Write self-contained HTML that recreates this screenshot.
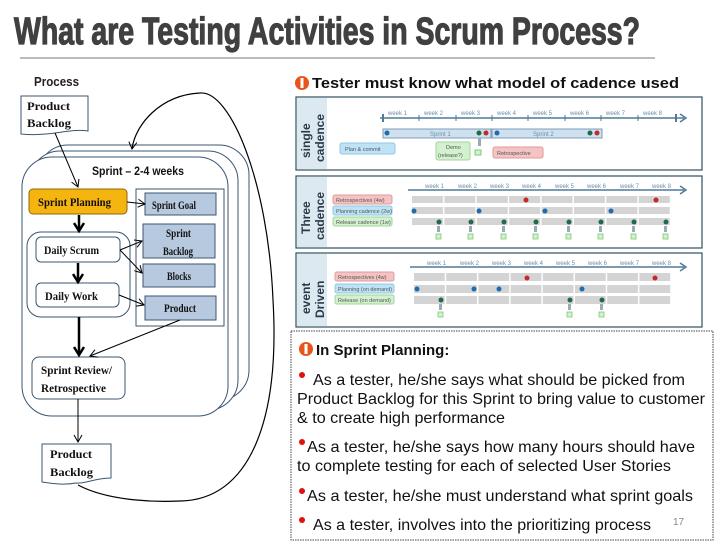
<!DOCTYPE html>
<html><head><meta charset="utf-8"><style>
html,body{margin:0;padding:0;background:#fff;}
svg{display:block;}
.n{font-family:"Liberation Serif",serif;font-weight:bold;font-size:12px;fill:#111;}
.s{font-family:"Liberation Sans",sans-serif;}
.wk{font-family:"Liberation Sans",sans-serif;font-size:6px;fill:#6a8ea8;}
.lb{font-family:"Liberation Sans",sans-serif;font-size:5.5px;fill:#555;}
</style></head><body>
<svg width="728" height="546" viewBox="0 0 728 546" xmlns="http://www.w3.org/2000/svg">
<defs>
<marker id="a" markerWidth="10" markerHeight="10" refX="8" refY="5" orient="auto" markerUnits="userSpaceOnUse"><path d="M1,1 L8,5 L1,9" fill="none" stroke="#000" stroke-width="1"/></marker>
<marker id="b" markerWidth="12" markerHeight="12" refX="9" refY="6" orient="auto" markerUnits="userSpaceOnUse"><path d="M1,1 L9,6 L1,11" fill="none" stroke="#000" stroke-width="2.5"/></marker>
<pattern id="cells" x="412" y="0" width="32.4" height="10" patternUnits="userSpaceOnUse"><rect width="31" height="10" fill="#d4d4d4"/></pattern>
<pattern id="cells2" x="414" y="0" width="32.2" height="10" patternUnits="userSpaceOnUse"><rect width="30.8" height="10" fill="#d4d4d4"/></pattern>
</defs>

<!-- title -->
<text x="14" y="44" class="s" font-weight="bold" font-size="38" fill="#404040" stroke="#404040" stroke-width="1.2" textLength="626" lengthAdjust="spacingAndGlyphs">What are Testing Activities in Scrum Process?</text>
<line x1="20" y1="58" x2="655" y2="58" stroke="#777" stroke-width="1"/>

<!-- left process -->
<text x="34" y="86" class="s" font-weight="bold" font-size="13" fill="#222" textLength="45" lengthAdjust="spacingAndGlyphs">Process</text>
<path d="M21,96 H88 V131 C70,128 50,137 21,134 Z" fill="#fff" stroke="#3b5670" stroke-width="1"/>
<text x="27" y="110" class="n" textLength="43" lengthAdjust="spacingAndGlyphs">Product</text><text x="27" y="127" class="n" textLength="44" lengthAdjust="spacingAndGlyphs">Backlog</text>

<!-- sprint stacked boxes -->
<rect x="38" y="145" width="211" height="255" rx="30" fill="#fff" stroke="#3b5670"/>
<rect x="30" y="151" width="208" height="259" rx="30" fill="#fff" stroke="#3b5670"/>
<rect x="22" y="157" width="206" height="259" rx="30" fill="#fff" stroke="#3b5670"/>
<text x="92" y="175" class="s" font-weight="bold" font-size="12" fill="#111" textLength="92" lengthAdjust="spacingAndGlyphs">Sprint – 2-4 weeks</text>

<rect x="136" y="189" width="88" height="137" fill="#fff" stroke="#3b5670"/>
<rect x="29" y="189" width="98" height="25" rx="4" fill="#f6b40f" stroke="#8a6a10"/>
<text x="38" y="206" class="n" font-size="11.5" textLength="73" lengthAdjust="spacingAndGlyphs">Sprint Planning</text>

<rect x="145" y="193" width="71" height="22" fill="#b7c9df" stroke="#3b5670"/>
<text x="152" y="209" class="n" font-size="11.5" textLength="44" lengthAdjust="spacingAndGlyphs">Sprint Goal</text>
<rect x="143" y="224" width="72" height="34" fill="#b7c9df" stroke="#3b5670"/>
<text x="166" y="237" class="n" font-size="11.5" textLength="25" lengthAdjust="spacingAndGlyphs">Sprint</text><text x="163" y="255" class="n" font-size="11.5" textLength="30" lengthAdjust="spacingAndGlyphs">Backlog</text>
<rect x="143" y="264" width="72" height="23" fill="#b7c9df" stroke="#3b5670"/>
<text x="167" y="280" class="n" font-size="11.5" textLength="24" lengthAdjust="spacingAndGlyphs">Blocks</text>
<rect x="145" y="296" width="71" height="24" fill="#b7c9df" stroke="#3b5670"/>
<text x="164" y="312" class="n" font-size="11.5" textLength="32" lengthAdjust="spacingAndGlyphs">Product</text>

<rect x="27" y="232" width="103" height="85" rx="14" fill="#fff" stroke="#3b5670"/>
<rect x="36" y="237" width="84" height="25" rx="5" fill="#fff" stroke="#3b5670"/>
<text x="44" y="254" class="n" font-size="11.5" textLength="55" lengthAdjust="spacingAndGlyphs">Daily Scrum</text>
<rect x="36" y="283" width="83" height="24" rx="5" fill="#fff" stroke="#3b5670"/>
<text x="45" y="300" class="n" font-size="11.5" textLength="53" lengthAdjust="spacingAndGlyphs">Daily Work</text>

<rect x="32" y="357" width="93" height="42" rx="7" fill="#fff" stroke="#3b5670"/>
<text x="41" y="374" class="n" font-size="11.5" textLength="71" lengthAdjust="spacingAndGlyphs">Sprint Review/</text>
<text x="41" y="392" class="n" font-size="11.5" textLength="65" lengthAdjust="spacingAndGlyphs">Retrospective</text>

<path d="M42,444 H111 V478 C95,478 85,484 76,483 C65,485 55,484 42,482 Z" fill="#fff" stroke="#3b5670"/>
<text x="50" y="458" class="n" textLength="42" lengthAdjust="spacingAndGlyphs">Product</text><text x="50" y="476" class="n" textLength="43" lengthAdjust="spacingAndGlyphs">Backlog</text>

<!-- arrows -->
<line x1="55" y1="133" x2="78" y2="187" stroke="#000" marker-end="url(#a)"/>
<line x1="127" y1="202" x2="145" y2="204" stroke="#000" marker-end="url(#a)"/>
<line x1="79" y1="215" x2="79" y2="231" stroke="#000" stroke-width="2.5" marker-end="url(#b)"/>
<line x1="78" y1="263" x2="78" y2="282" stroke="#000" stroke-width="2.5" marker-end="url(#b)"/>
<line x1="79" y1="317" x2="79" y2="355" stroke="#000" stroke-width="2.5" marker-end="url(#b)"/>
<line x1="120" y1="250" x2="142" y2="241" stroke="#000" marker-end="url(#a)"/>
<line x1="120" y1="250" x2="142" y2="273" stroke="#000" marker-end="url(#a)"/>
<line x1="119" y1="295" x2="144" y2="305" stroke="#000" marker-end="url(#a)"/>
<line x1="180" y1="320" x2="90" y2="356" stroke="#000" marker-end="url(#a)"/>
<line x1="78" y1="399" x2="78" y2="442" stroke="#000" marker-end="url(#a)"/>
<path d="M78,485 C110,502 160,502 180,501 C250,500 280,420 273,300 C268,180 230,90 200,93 C160,95 135,125 132,149" fill="none" stroke="#000" stroke-width="1.2" marker-end="url(#a)"/>

<!-- right heading -->
<circle cx="302" cy="83" r="7" fill="#e8541c"/><rect x="300.5" y="78" width="3" height="10" fill="#fff"/>
<text x="312" y="88" class="s" font-weight="bold" font-size="15" fill="#111" textLength="367" lengthAdjust="spacingAndGlyphs">Tester must know what model of cadence used</text>

<!-- panel 1 single -->
<rect x="296" y="97" width="406" height="73" fill="#fff" stroke="#2f4f5f" stroke-width="1.2"/>
<rect x="297" y="98" width="30" height="71" fill="#dde9f1"/>
<text transform="translate(310,158) rotate(-90)" class="s" font-weight="bold" font-size="12" fill="#2a3a48">single</text>
<text transform="translate(324,162) rotate(-90)" class="s" font-weight="bold" font-size="12" fill="#2a3a48">cadence</text>
<line x1="380" y1="118" x2="684" y2="118" stroke="#4e7a98" stroke-width="1.5"/>
<path d="M680,114 L686,118 L680,122" fill="none" stroke="#4e7a98" stroke-width="1.5"/>
<g stroke="#4e7a98"><line x1="383" y1="114" x2="383" y2="122" stroke-width="2"/><line x1="419" y1="115" x2="419" y2="121"/><line x1="456" y1="115" x2="456" y2="121"/><line x1="492" y1="115" x2="492" y2="121"/><line x1="528" y1="115" x2="528" y2="121"/><line x1="565" y1="115" x2="565" y2="121"/><line x1="601" y1="115" x2="601" y2="121"/><line x1="638" y1="115" x2="638" y2="121"/><line x1="676" y1="114" x2="676" y2="122" stroke-width="2"/></g>
<text x="388" y="115" class="wk">week 1</text><text x="424" y="115" class="wk">week 2</text><text x="461" y="115" class="wk">week 3</text><text x="497" y="115" class="wk">week 4</text><text x="533" y="115" class="wk">week 5</text><text x="570" y="115" class="wk">week 6</text><text x="606" y="115" class="wk">week 7</text><text x="643" y="115" class="wk">week 8</text>
<rect x="383" y="129" width="108" height="9" fill="#cfe0ef" stroke="#7d9db8"/>
<rect x="492" y="129" width="110" height="9" fill="#cfe0ef" stroke="#7d9db8"/>
<text x="430" y="136" class="wk" font-size="7">Sprint 1</text><text x="533" y="136" class="wk" font-size="7">Sprint 2</text>
<g><circle cx="387" cy="133" r="2.5" fill="#1f6bb0"/><circle cx="479" cy="133" r="2.5" fill="#1e6b48"/><circle cx="486" cy="133" r="2.5" fill="#c62828"/><circle cx="497" cy="133" r="2.5" fill="#1f6bb0"/><circle cx="590" cy="133" r="2.5" fill="#1e6b48"/><circle cx="597" cy="133" r="2.5" fill="#c62828"/></g>
<rect x="340" y="143" width="55" height="11" rx="2" fill="#bde3f5" stroke="#8cc8e6"/><text x="345" y="151" class="lb">Plan &amp; commit</text>
<rect x="436" y="142" width="34" height="18" rx="2" fill="#d3f0cf" stroke="#9fd69a"/><text x="446" y="149" class="lb">Demo</text><text x="438" y="157" class="lb">(release?)</text>
<rect x="493" y="147" width="50" height="11" rx="2" fill="#f4c3c3" stroke="#e39a9a"/><text x="497" y="155" class="lb">Retrospective</text>
<rect x="478" y="138" width="3" height="8" fill="#9aaab8"/><rect x="475" y="150" width="6" height="5" fill="#d3f0cf" stroke="#7c7"/>

<!-- panel 2 three -->
<rect x="296" y="176" width="406" height="72" fill="#fff" stroke="#2f4f5f" stroke-width="1.2"/>
<rect x="297" y="177" width="30" height="70" fill="#dde9f1"/>
<text transform="translate(310,234) rotate(-90)" class="s" font-weight="bold" font-size="12" fill="#2a3a48">Three</text>
<text transform="translate(324,240) rotate(-90)" class="s" font-weight="bold" font-size="12" fill="#2a3a48">cadence</text>
<line x1="408" y1="190" x2="684" y2="190" stroke="#4e7a98" stroke-width="1.5"/>
<path d="M680,186 L686,190 L680,194" fill="none" stroke="#4e7a98" stroke-width="1.5"/>
<text x="425" y="188" class="wk">week 1</text><text x="458" y="188" class="wk">week 2</text><text x="490" y="188" class="wk">week 3</text><text x="522" y="188" class="wk">week 4</text><text x="555" y="188" class="wk">week 5</text><text x="587" y="188" class="wk">week 6</text><text x="620" y="188" class="wk">week 7</text><text x="652" y="188" class="wk">week 8</text>
<rect x="412" y="196" width="259" height="7" fill="url(#cells)"/>
<rect x="412" y="207" width="259" height="7" fill="url(#cells)"/>
<rect x="412" y="218" width="259" height="7" fill="url(#cells)"/>
<rect x="333" y="195" width="59" height="9" rx="2" fill="#f4c3c3" stroke="#e39a9a"/><text x="336" y="202" class="lb">Retrospectives (4w)</text>
<rect x="333" y="206" width="59" height="9" rx="2" fill="#bde3f5" stroke="#8cc8e6"/><text x="336" y="213" class="lb">Planning cadence (2w)</text>
<rect x="333" y="217" width="59" height="9" rx="2" fill="#d3f0cf" stroke="#9fd69a"/><text x="336" y="224" class="lb">Release cadence (1w)</text>
<circle cx="526" cy="200" r="2.5" fill="#c62828"/><circle cx="656" cy="200" r="2.5" fill="#c62828"/>
<circle cx="414" cy="211" r="2.5" fill="#1f6bb0"/><circle cx="479" cy="211" r="2.5" fill="#1f6bb0"/><circle cx="545" cy="211" r="2.5" fill="#1f6bb0"/><circle cx="611" cy="211" r="2.5" fill="#1f6bb0"/>
<g fill="#1e6b48"><circle cx="439" cy="222" r="2.5"/><circle cx="471" cy="222" r="2.5"/><circle cx="504" cy="222" r="2.5"/><circle cx="536" cy="222" r="2.5"/><circle cx="569" cy="222" r="2.5"/><circle cx="601" cy="222" r="2.5"/><circle cx="634" cy="222" r="2.5"/><circle cx="666" cy="222" r="2.5"/></g>
<g fill="#9aaab8"><rect x="437" y="226" width="3" height="6"/><rect x="469" y="226" width="3" height="6"/><rect x="502" y="226" width="3" height="6"/><rect x="534" y="226" width="3" height="6"/><rect x="567" y="226" width="3" height="6"/><rect x="599" y="226" width="3" height="6"/><rect x="632" y="226" width="3" height="6"/><rect x="664" y="226" width="3" height="6"/></g>
<g fill="#d3f0cf" stroke="#7c7" stroke-width="0.8"><rect x="436" y="234" width="5" height="5"/><rect x="468" y="234" width="5" height="5"/><rect x="501" y="234" width="5" height="5"/><rect x="533" y="234" width="5" height="5"/><rect x="566" y="234" width="5" height="5"/><rect x="598" y="234" width="5" height="5"/><rect x="631" y="234" width="5" height="5"/><rect x="663" y="234" width="5" height="5"/></g>

<!-- panel 3 event -->
<rect x="296" y="253" width="406" height="74" fill="#fff" stroke="#2f4f5f" stroke-width="1.2"/>
<rect x="297" y="254" width="30" height="72" fill="#dde9f1"/>
<text transform="translate(310,314) rotate(-90)" class="s" font-weight="bold" font-size="12" fill="#2a3a48">event</text>
<text transform="translate(324,318) rotate(-90)" class="s" font-weight="bold" font-size="12" fill="#2a3a48">Driven</text>
<line x1="410" y1="267" x2="684" y2="267" stroke="#4e7a98" stroke-width="1.5"/>
<path d="M680,263 L686,267 L680,271" fill="none" stroke="#4e7a98" stroke-width="1.5"/>
<text x="427" y="265" class="wk">week 1</text><text x="460" y="265" class="wk">week 2</text><text x="492" y="265" class="wk">week 3</text><text x="524" y="265" class="wk">week 4</text><text x="556" y="265" class="wk">week 5</text><text x="588" y="265" class="wk">week 6</text><text x="620" y="265" class="wk">week 7</text><text x="652" y="265" class="wk">week 8</text>
<rect x="414" y="273" width="257" height="8" fill="url(#cells2)"/>
<rect x="414" y="285" width="257" height="8" fill="url(#cells2)"/>
<rect x="414" y="296" width="257" height="8" fill="url(#cells2)"/>
<rect x="335" y="272" width="59" height="9" rx="2" fill="#f4c3c3" stroke="#e39a9a"/><text x="338" y="279" class="lb">Retrospectives (4w)</text>
<rect x="335" y="284" width="59" height="9" rx="2" fill="#bde3f5" stroke="#8cc8e6"/><text x="338" y="291" class="lb">Planning (on demand)</text>
<rect x="335" y="295" width="59" height="9" rx="2" fill="#d3f0cf" stroke="#9fd69a"/><text x="338" y="302" class="lb">Release (on demand)</text>
<circle cx="527" cy="278" r="2.5" fill="#c62828"/><circle cx="655" cy="278" r="2.5" fill="#c62828"/>
<circle cx="417" cy="289" r="2.5" fill="#1f6bb0"/><circle cx="474" cy="289" r="2.5" fill="#1f6bb0"/><circle cx="499" cy="289" r="2.5" fill="#1f6bb0"/><circle cx="582" cy="289" r="2.5" fill="#1f6bb0"/>
<circle cx="441" cy="300" r="2.5" fill="#1e6b48"/><circle cx="570" cy="300" r="2.5" fill="#1e6b48"/><circle cx="602" cy="300" r="2.5" fill="#1e6b48"/>
<g fill="#9aaab8"><rect x="439" y="304" width="3" height="6"/><rect x="568" y="304" width="3" height="6"/><rect x="600" y="304" width="3" height="6"/></g>
<g fill="#d3f0cf" stroke="#7c7" stroke-width="0.8"><rect x="438" y="312" width="5" height="5"/><rect x="567" y="312" width="5" height="5"/><rect x="599" y="312" width="5" height="5"/></g>

<!-- bottom box -->
<rect x="291" y="331" width="422" height="209" fill="#fff" stroke="#444" stroke-width="1" stroke-dasharray="1.5,1"/>
<circle cx="306" cy="349" r="7" fill="#e8541c"/><rect x="304.5" y="344" width="3" height="10" fill="#fff"/>
<text x="316" y="355" class="s" font-weight="bold" font-size="15" fill="#111">In Sprint Planning:</text>
<g class="s" font-size="16" fill="#111">
<circle cx="302" cy="375" r="3" fill="#e01010"/>
<text x="313" y="385" textLength="372" lengthAdjust="spacingAndGlyphs">As a tester, he/she says what should be picked from</text>
<text x="297" y="404" textLength="408" lengthAdjust="spacingAndGlyphs">Product Backlog for this Sprint to bring value to customer</text>
<text x="297" y="423" textLength="208" lengthAdjust="spacingAndGlyphs">&amp; to create high performance</text>
<circle cx="302" cy="442" r="3" fill="#e01010"/>
<text x="307" y="452" textLength="388" lengthAdjust="spacingAndGlyphs">As a tester, he/she says how many hours should have</text>
<text x="297" y="471" textLength="374" lengthAdjust="spacingAndGlyphs">to complete testing for each of selected User Stories</text>
<circle cx="302" cy="491" r="3" fill="#e01010"/>
<text x="307" y="501" textLength="386" lengthAdjust="spacingAndGlyphs">As a tester, he/she must understand what sprint goals</text>
<circle cx="302" cy="520" r="3" fill="#e01010"/>
<text x="313" y="530" textLength="338" lengthAdjust="spacingAndGlyphs">As a tester, involves into the prioritizing process</text>
</g>
<text x="673" y="525" class="s" font-size="10" fill="#888">17</text>
</svg>
</body></html>
